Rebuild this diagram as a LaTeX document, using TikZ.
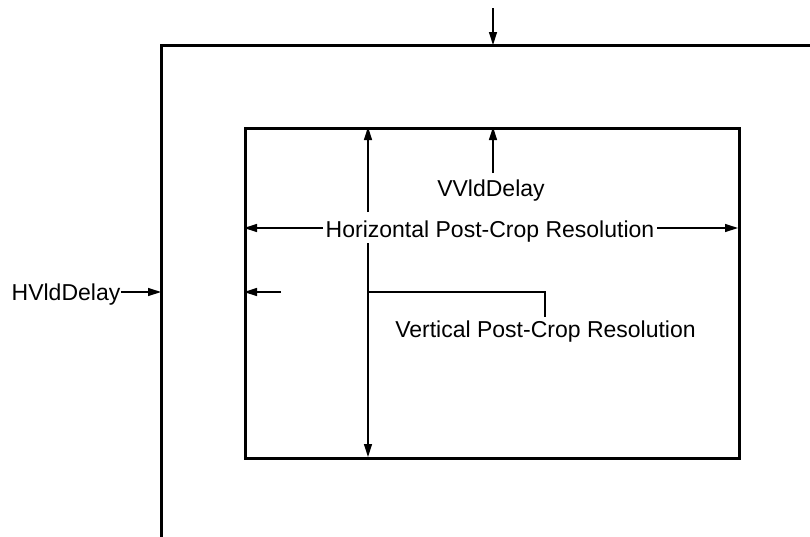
\documentclass[tikz,border=0pt]{standalone}
\usepackage{fontspec}
\setmainfont{Liberation Sans}
\usetikzlibrary{arrows.meta}
\begin{document}
\begin{tikzpicture}[x=1pt,y=-1pt,
  frame/.style={line width=3pt},
  conn/.style={line width=1.3pt},
  arr/.style={conn,-{Triangle[length=13pt,width=8pt]}},
  lbl/.style={inner sep=0pt,anchor=base,font=\fontsize{23}{27}\selectfont}]
\clip (0,0) rectangle (810,536);
% outer frame
\coordinate (oBL) at (161,560);
\coordinate (oTL) at (161,45);
\coordinate (oTR) at (830,45);
\draw[frame] (oBL) -- (oTL) -- (oTR);
% inner rectangle
\node[frame,draw,minimum width=494pt,minimum height=330pt,anchor=north west,inner sep=0pt] (inner) at (244,127) {};
% labels
\node[lbl] (vvd) at (491,196) {VVldDelay};
\node[lbl] (hres) at (490,237) {Horizontal Post-Crop Resolution};
\node[lbl] (vres) at (545.5,337) {Vertical Post-Crop Resolution};
\node[lbl] (hvd) at (66,300) {HVldDelay};
% top arrow
\coordinate (topS) at (493,8);
\coordinate (topE) at (493,45);
\draw[arr] (topS) -- (topE);
% VVldDelay arrow
\coordinate (vvS) at (493,173);
\coordinate (vvE) at (493,127);
\draw[arr] (vvS) -- (vvE);
% vertical resolution double arrow (broken by text)
\coordinate (vU) at (368,212);
\coordinate (vT) at (368,127);
\coordinate (vD) at (368,243);
\coordinate (vB) at (368,457);
\draw[arr] (vU) -- (vT);
\draw[arr] (vD) -- (vB);
% horizontal resolution arrows
\coordinate (hLs) at (323,228);
\coordinate (hLe) at (244,228);
\coordinate (hRs) at (657,228);
\coordinate (hRe) at (738,228);
\draw[arr] (hLs) -- (hLe);
\draw[arr] (hRs) -- (hRe);
% bracket to vertical label
\coordinate (b1) at (368,292);
\coordinate (b2) at (545,292);
\coordinate (b3) at (545,317);
\draw[conn] (b1) -- (b2) -- (b3);
% small arrow inside
\coordinate (sS) at (281,292);
\coordinate (sE) at (244,292);
\draw[arr] (sS) -- (sE);
% HVldDelay arrow
\coordinate (hvS) at (121,292);
\coordinate (hvE) at (161,292);
\draw[arr] (hvS) -- (hvE);
\end{tikzpicture}
\end{document}
